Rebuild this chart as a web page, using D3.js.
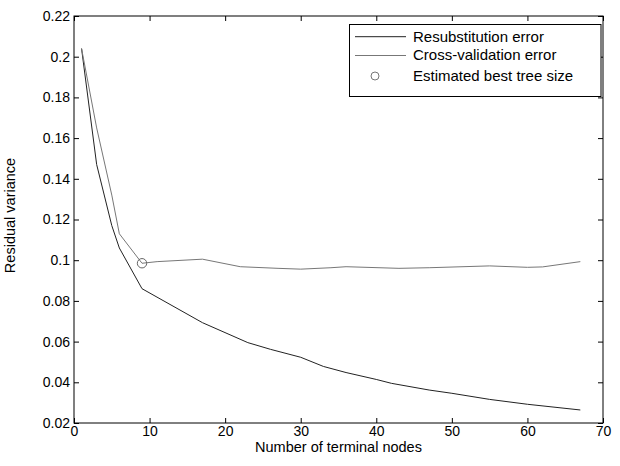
<!DOCTYPE html>
<html>
<head>
<meta charset="utf-8">
<script src="https://cdn.jsdelivr.net/npm/d3@7"></script>
<style>
  html, body { margin: 0; padding: 0; background: #fff; }
  svg { display: block; font-family: "Liberation Sans", Arial, sans-serif; }
</style>
</head>
<body>
<svg id="chart" width="620" height="466"></svg>
<script>
// ---- data ----
const resubX = [1, 3, 5, 6, 9, 17, 23, 26, 30, 33, 36, 40, 42, 47, 50, 55, 60, 67];
const resubY = [0.204, 0.147, 0.117, 0.106, 0.086, 0.0693, 0.0595, 0.0562, 0.0523, 0.0478, 0.0448, 0.0414, 0.0395, 0.0362, 0.0346, 0.0316, 0.0292, 0.0264];
const cvX = [1, 3, 5, 6, 9, 11, 17, 22, 27, 30, 34, 36, 43, 47, 55, 60, 62, 67];
const cvY = [0.204, 0.165, 0.132, 0.113, 0.0985, 0.0993, 0.1005, 0.0968, 0.096, 0.0956, 0.0963, 0.0968, 0.096, 0.0963, 0.0972, 0.0965, 0.0967, 0.0993];
const bestX = [9];
const bestY = [0.0985];
const xTicks = [0, 10, 20, 30, 40, 50, 60, 70];
const xTickLabels = ["0", "10", "20", "30", "40", "50", "60", "70"];
const yTicks = [0.02, 0.04, 0.06, 0.08, 0.1, 0.12, 0.14, 0.16, 0.18, 0.2, 0.22];
const yTickLabels = ["0.02", "0.04", "0.06", "0.08", "0.1", "0.12", "0.14", "0.16", "0.18", "0.2", "0.22"];
const legendLabels = ["Resubstitution error", "Cross-validation error", "Estimated best tree size"];
const xLabel = "Number of terminal nodes";
const yLabel = "Residual variance";

// ---- layout ----
const L = 74, R = 603, T = 16, B = 423;
const svg = d3.select("#chart");
const x = d3.scaleLinear().domain([0, 70]).range([L, R]);
const y = d3.scaleLinear().domain([0.02, 0.22]).range([B, T]);

const tickFont = "14px";
// bottom axis
svg.append("g").attr("transform", `translate(0,${B})`)
  .call(d3.axisBottom(x).tickValues(xTicks).tickFormat((d, i) => xTickLabels[i]).tickSizeInner(-5).tickSizeOuter(0).tickPadding(3))
  .call(g => g.select(".domain").remove())
  .call(g => g.selectAll("text").attr("font-size", tickFont).attr("fill", "#000").attr("font-family", "Liberation Sans, Arial, sans-serif"));
// top axis ticks
svg.append("g").attr("transform", `translate(0,${T})`)
  .call(d3.axisTop(x).tickValues(xTicks).tickFormat("").tickSizeInner(-5).tickSizeOuter(0))
  .call(g => g.select(".domain").remove());
// left axis
svg.append("g").attr("transform", `translate(${L},0)`)
  .call(d3.axisLeft(y).tickValues(yTicks).tickFormat((d, i) => yTickLabels[i]).tickSizeInner(-5).tickSizeOuter(0).tickPadding(4))
  .call(g => g.select(".domain").remove())
  .call(g => g.selectAll("text").attr("font-size", tickFont).attr("fill", "#000").attr("font-family", "Liberation Sans, Arial, sans-serif"));
// right axis ticks
svg.append("g").attr("transform", `translate(${R},0)`)
  .call(d3.axisRight(y).tickValues(yTicks).tickFormat("").tickSizeInner(-5).tickSizeOuter(0))
  .call(g => g.select(".domain").remove());

// box
svg.append("rect").attr("x", L).attr("y", T).attr("width", R - L).attr("height", B - T)
  .attr("fill", "none").attr("stroke", "#000").attr("stroke-width", 1);

// lines
const line = d3.line().x(d => x(d[0])).y(d => y(d[1]));
svg.append("path").datum(resubX.map((v, i) => [v, resubY[i]]))
  .attr("d", line).attr("fill", "none").attr("stroke", "#222").attr("stroke-width", 1);
svg.append("path").datum(cvX.map((v, i) => [v, cvY[i]]))
  .attr("d", line).attr("fill", "none").attr("stroke", "#777").attr("stroke-width", 1);
svg.selectAll("circle.best").data(bestX.map((v, i) => [v, bestY[i]])).enter()
  .append("circle").attr("class", "best")
  .attr("cx", d => x(d[0])).attr("cy", d => y(d[1])).attr("r", 4.7)
  .attr("fill", "none").attr("stroke", "#666").attr("stroke-width", 1);

// axis labels
svg.append("text").attr("x", (L + R) / 2).attr("y", 452).attr("text-anchor", "middle")
  .attr("font-size", "14.5px").attr("fill", "#000").text(xLabel);
svg.append("text").attr("transform", `translate(15,${(T + B) / 2 - 4}) rotate(-90)`)
  .attr("text-anchor", "middle").attr("font-size", "14.5px").attr("fill", "#000").text(yLabel);

// legend
const lg = svg.append("g");
lg.append("rect").attr("x", 349.5).attr("y", 24.5).attr("width", 251.5).attr("height", 72)
  .attr("fill", "#fff").attr("stroke", "#000").attr("stroke-width", 1);
const rowsY = [36.7, 55.5, 76];
const baseY = [41.7, 60.3, 81];
lg.append("line").attr("x1", 355).attr("x2", 406).attr("y1", rowsY[0]).attr("y2", rowsY[0]).attr("stroke", "#222");
lg.append("line").attr("x1", 355).attr("x2", 406).attr("y1", rowsY[1]).attr("y2", rowsY[1]).attr("stroke", "#777");
lg.append("circle").attr("cx", 375).attr("cy", rowsY[2]).attr("r", 4).attr("fill", "none").attr("stroke", "#777");
legendLabels.forEach((t, i) => {
  lg.append("text").attr("x", 413).attr("y", baseY[i]).attr("font-size", "15px").attr("fill", "#000").text(t);
});
</script>
</body>
</html>
